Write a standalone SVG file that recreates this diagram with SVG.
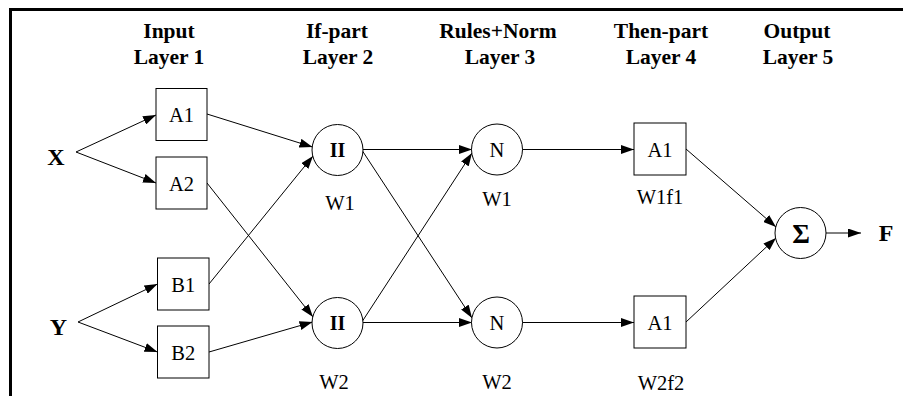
<svg xmlns="http://www.w3.org/2000/svg" width="903" height="396" viewBox="0 0 903 396">
  <style>
    .frame { fill: none; stroke: #000; stroke-width: 3; }
    .box, .ring { fill: #fff; stroke: #000; stroke-width: 1; }
    .wire { fill: none; stroke: #000; stroke-width: 1; marker-end: url(#tip); }
    text { font-family: "Liberation Serif", "Times New Roman", serif; fill: #000; text-anchor: middle; }
    .head { font-size: 21.5px; font-weight: bold; }
    .lbl { font-size: 20.5px; }
    .io { font-size: 24px; font-weight: bold; }
    .op { font-size: 20px; font-weight: bold; }
    .sig { font-size: 27px; font-weight: bold; }
  </style>
  <defs>
    <marker id="tip" markerUnits="userSpaceOnUse" markerWidth="13" markerHeight="9" refX="13" refY="4.5" orient="auto">
      <path d="M0,0 L13,4.5 L0,9 Z" fill="#000"/>
    </marker>
  </defs>

  <rect width="903" height="396" fill="#fff"/>
  <!-- outer frame: top and left edges -->
  <path class="frame" d="M10.5,396 V9.5 H903"/>

  <!-- layer headings -->
  <g id="headings" class="head">
    <text x="169" y="38">Input</text>
    <text x="169" y="64">Layer 1</text>
    <text x="337" y="38">If-part</text>
    <text x="338" y="64">Layer 2</text>
    <text x="498" y="38">Rules+Norm</text>
    <text x="500" y="64">Layer 3</text>
    <text x="661" y="38">Then-part</text>
    <text x="661" y="64">Layer 4</text>
    <text x="797" y="38">Output</text>
    <text x="798" y="64">Layer 5</text>
  </g>

  <!-- connectors -->
  <g id="connectors">
    <path class="wire" d="M76,152 L156,115"/>
    <path class="wire" d="M76,152 L156,183"/>
    <path class="wire" d="M78,322 L157.5,284"/>
    <path class="wire" d="M78,322 L157.5,352"/>

    <path class="wire" d="M207,114 L312.5,147"/>
    <path class="wire" d="M207,183 L313,317"/>
    <path class="wire" d="M209,284 L313,156"/>
    <path class="wire" d="M209,352 L312.5,322"/>

    <path class="wire" d="M362.5,149.5 L472,149.5"/>
    <path class="wire" d="M362.5,151 L472,318"/>
    <path class="wire" d="M362.5,321 L472,153"/>
    <path class="wire" d="M362.5,322.5 L472,322.5"/>

    <path class="wire" d="M522,149.5 L634,149.5"/>
    <path class="wire" d="M522,322.5 L634,322.5"/>

    <path class="wire" d="M686,149 L776,227"/>
    <path class="wire" d="M686,322 L776,238"/>

    <path class="wire" d="M826,233 L861,233"/>
  </g>

  <!-- inputs -->
  <g id="input-x"><text class="io" x="56" y="165">X</text></g>
  <g id="input-y"><text class="io" x="58.5" y="335">Y</text></g>

  <!-- layer 1 -->
  <g id="node-a1">
    <rect class="box" x="156" y="88.5" width="51" height="52"/>
    <text class="lbl" x="181.5" y="122">A1</text>
  </g>
  <g id="node-a2">
    <rect class="box" x="156" y="157" width="51" height="52"/>
    <text class="lbl" x="181.5" y="190.5">A2</text>
  </g>
  <g id="node-b1">
    <rect class="box" x="157.5" y="258" width="51.5" height="52"/>
    <text class="lbl" x="183.3" y="291.5">B1</text>
  </g>
  <g id="node-b2">
    <rect class="box" x="157.5" y="326" width="51.5" height="52"/>
    <text class="lbl" x="183.3" y="359.5">B2</text>
  </g>

  <!-- layer 2 -->
  <g id="node-pi1">
    <circle class="ring" cx="337.5" cy="150" r="25.5"/>
    <text class="op" x="337.5" y="157">II</text>
    <text class="lbl" x="340" y="210">W1</text>
  </g>
  <g id="node-pi2">
    <circle class="ring" cx="337.5" cy="323" r="25.5"/>
    <text class="op" x="337.5" y="330">II</text>
    <text class="lbl" x="334" y="389">W2</text>
  </g>

  <!-- layer 3 -->
  <g id="node-n1">
    <circle class="ring" cx="497" cy="149.5" r="25.5"/>
    <text class="lbl" x="497" y="156.5">N</text>
    <text class="lbl" x="497" y="205.5">W1</text>
  </g>
  <g id="node-n2">
    <circle class="ring" cx="497" cy="322.5" r="25.5"/>
    <text class="lbl" x="497" y="329.5">N</text>
    <text class="lbl" x="497" y="389">W2</text>
  </g>

  <!-- layer 4 -->
  <g id="node-c1">
    <rect class="box" x="634" y="123" width="52" height="52"/>
    <text class="lbl" x="660" y="156.5">A1</text>
    <text class="lbl" x="660" y="203.5">W1f1</text>
  </g>
  <g id="node-c2">
    <rect class="box" x="634" y="296" width="52" height="52"/>
    <text class="lbl" x="660" y="329.5">A1</text>
    <text class="lbl" x="661" y="390">W2f2</text>
  </g>

  <!-- layer 5 -->
  <g id="node-sum">
    <circle class="ring" cx="800.5" cy="233" r="25.5"/>
    <text class="sig" x="801" y="242.5">Σ</text>
  </g>
  <g id="output-f"><text class="io" x="886" y="241">F</text></g>
</svg>
